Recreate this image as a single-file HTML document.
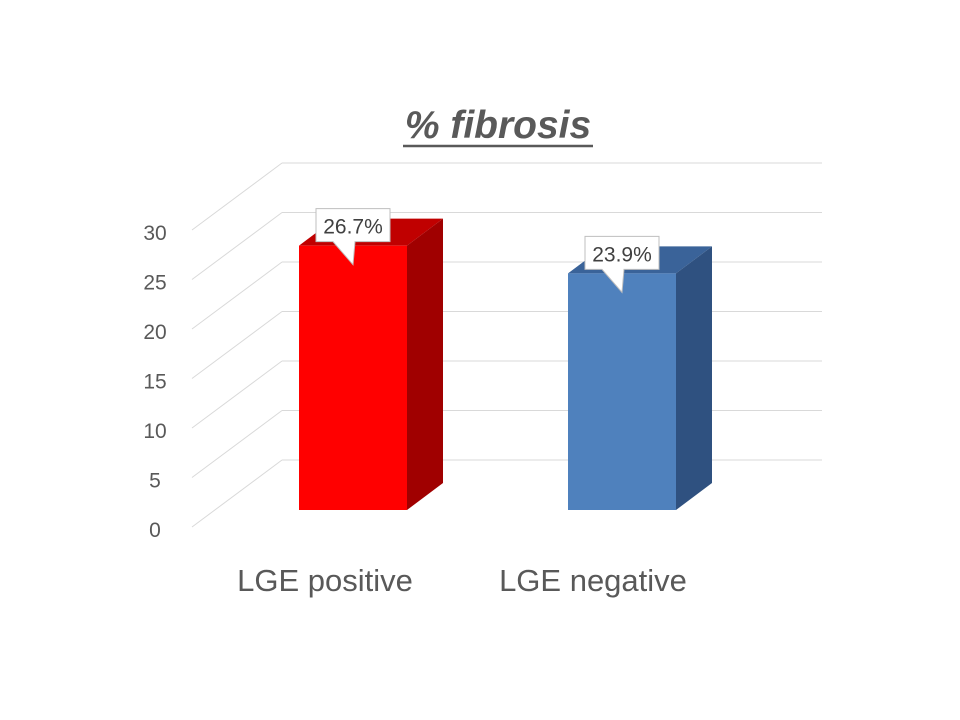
<!DOCTYPE html>
<html><head><meta charset="utf-8"><style>
html,body{margin:0;padding:0;background:#fff;}
svg{display:block;font-family:"Liberation Sans",sans-serif;}
</style></head><body>
<svg id="chart" width="960" height="720">
<text x="498" y="138" text-anchor="middle" font-size="39" font-weight="bold" font-style="italic" fill="#595959">% fibrosis</text>
<line x1="403" y1="146" x2="593" y2="146" stroke="#595959" stroke-width="2.5"/>
<g id="grid"></g><g id="yticks"></g><g id="bars"></g><g id="labels"></g><g id="cats"></g>
</svg>
<script>
const categories=["LGE positive","LGE negative"];
const values=[26.7,23.9];
const valueLabels=["26.7%","23.9%"];
const yTicks=[0,5,10,15,20,25,30];
const frontColors=["#ff0000","#4f81bd"];
const topColors=["#c00000","#3a6399"];
const sideColors=["#a00000","#2f5180"];
const NS="http://www.w3.org/2000/svg";
const S=9.9, FRONT0=527, BACK0=460, LX=192, BX=282, RX=822;
function y(v,base){return base-v*S;}
function mk(t,a,p){const e=document.createElementNS(NS,t);for(const k in a)e.setAttribute(k,a[k]);p.appendChild(e);return e;}
const grid=document.getElementById('grid'),yt=document.getElementById('yticks');
yTicks.forEach(v=>{
  const g=mk('g',{},grid);
  
  
  mk('line',{x1:LX,y1:y(v,FRONT0),x2:BX,y2:y(v,BACK0),stroke:'#d9d9d9','stroke-width':1},g);
  mk('line',{x1:BX,y1:y(v,BACK0),x2:RX,y2:y(v,BACK0),stroke:'#d9d9d9','stroke-width':1},g);
  const t=mk('text',{x:155,y:y(v,FRONT0)+10,'text-anchor':'middle','font-size':21,fill:'#595959'},yt);
  t.textContent=v;
  
  
});
const bars=document.getElementById('bars'),labs=document.getElementById('labels'),cats=document.getElementById('cats');
const barX=[299,568],BW=108,BD=36,BDY=27,BASE=510;
const catX=[325,593];
categories.forEach((c,i)=>{
  const x=barX[i],top=y(values[i],BASE);
  const g=mk('g',{},bars);
  
  
  mk('polygon',{points:`${x},${top} ${x+BD},${top-BDY} ${x+BW+BD},${top-BDY} ${x+BW},${top}`,fill:topColors[i]},g);
  mk('polygon',{points:`${x+BW},${top} ${x+BW+BD},${top-BDY} ${x+BW+BD},${BASE-BDY} ${x+BW},${BASE}`,fill:sideColors[i]},g);
  mk('rect',{x:x,y:top,width:BW,height:BASE-top,fill:frontColors[i]},g);
  const lg=mk('g',{},labs);
  
  
  const bx=x+17,by=top-37,bw=74,bh=33;
  mk('path',{d:`M${bx},${by} H${bx+bw} V${by+bh} H${bx+39} L${bx+37},${by+bh+23} L${bx+17},${by+bh} H${bx} Z`,fill:'#fff',stroke:'#bfbfbf','stroke-width':1},lg);
  const t=mk('text',{x:bx+bw/2,y:by+25,'text-anchor':'middle','font-size':21,fill:'#404040'},lg);
  t.textContent=valueLabels[i];
  const ct=mk('text',{x:catX[i],y:591,'text-anchor':'middle','font-size':31,fill:'#595959'},cats);
  ct.textContent=c;
  
  
});
</script>
</body></html>
